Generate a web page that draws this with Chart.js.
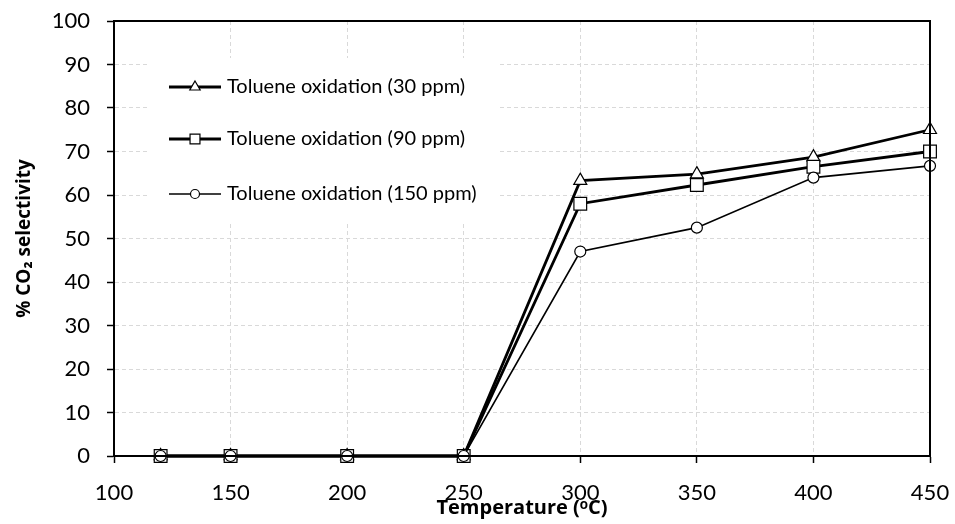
<!DOCTYPE html>
<html>
<head>
<meta charset="utf-8">
<script src="https://cdn.jsdelivr.net/npm/chart.js@4.4.0/dist/chart.umd.min.js"></script>
<style>
  html, body { margin: 0; padding: 0; background: #fff; }
  #wrap { width: 955px; height: 524px; }
</style>
</head>
<body>
<div id="wrap"><canvas id="selChart" width="955" height="524"></canvas></div>
<script>
// temperatures (°C) and % CO2 selectivity
var temps = [120, 150, 200, 250, 300, 350, 400, 450];
var sel30 = [0, 0, 0, 0, 63.3, 64.8, 68.7, 75.0];
var sel90 = [0, 0, 0, 0, 58.0, 62.3, 66.5, 70.0];
var sel150 = [0, 0, 0, 0, 47.0, 52.5, 64.0, 66.7];
var seriesNames = ["Toluene oxidation (30 ppm)", "Toluene oxidation (90 ppm)", "Toluene oxidation (150 ppm)"];

var FONT = "Lato, 'Open Sans', sans-serif";
var TITLE_FONT = "'Open Sans', sans-serif";

function pts(ys) {
  return temps.map(function (t, i) { return { x: t, y: ys[i] }; });
}

// legend drawn inside the plot, on a white patch that hides the grid
var insideLegend = {
  id: "insideLegend",
  beforeDatasetsDraw: function (chart) {
    var c = chart.ctx;
    c.save();
    c.fillStyle = "#fff";
    c.fillRect(148, 58, 349, 165);
    var rows = [87, 139, 194];
    chart.data.datasets.forEach(function (ds, i) {
      var y = rows[i];
      c.strokeStyle = "#000";
      c.lineWidth = ds.borderWidth;
      c.beginPath();
      c.moveTo(169, y);
      c.lineTo(221, y);
      c.stroke();
      c.lineWidth = 1.2;
      c.fillStyle = "#fff";
      Chart.helpers.drawPoint(c, {
        pointStyle: ds.pointStyle,
        radius: ds.legendRadius,
        rotation: 0,
        borderWidth: 1.2
      }, 195, y);
      c.fillStyle = "#000";
      c.font = "20px " + FONT;
      c.textBaseline = "middle";
      c.fillText(ds.label, 227, y);
    });
    c.restore();
  },
  afterDraw: function (chart) {
    var a = chart.chartArea, c = chart.ctx;
    c.save();
    c.strokeStyle = "#000";
    c.lineWidth = 2;
    c.strokeRect(a.left, a.top, a.right - a.left, a.bottom - a.top);
    c.restore();
  }
};

new Chart(document.getElementById("selChart").getContext("2d"), {
  type: "line",
  data: {
    datasets: [
      {
        label: seriesNames[0], data: pts(sel30), order: 3, clip: false,
        borderColor: "#000", borderWidth: 2.8, pointStyle: "triangle",
        pointRadius: 7.5, legendRadius: 6, pointBackgroundColor: "#fff",
        pointBorderColor: "#000", pointBorderWidth: 1.2
      },
      {
        label: seriesNames[1], data: pts(sel90), order: 2, clip: false,
        borderColor: "#000", borderWidth: 2.8, pointStyle: "rect",
        pointRadius: 9, legendRadius: 7, pointBackgroundColor: "#fff",
        pointBorderColor: "#000", pointBorderWidth: 1.2
      },
      {
        label: seriesNames[2], data: pts(sel150), order: 1, clip: false,
        borderColor: "#000", borderWidth: 1.6, pointStyle: "circle",
        pointRadius: 5.5, legendRadius: 4.5, pointBackgroundColor: "#fff",
        pointBorderColor: "#000", pointBorderWidth: 1.2
      }
    ]
  },
  options: {
    responsive: false,
    animation: false,
    layout: { padding: { left: 0, right: 25, top: 21, bottom: 0 } },
    plugins: {
      legend: { display: false },
      tooltip: { enabled: false }
    },
    scales: {
      x: {
        type: "linear",
        min: 100,
        max: 450,
        ticks: { stepSize: 50, color: "#000", font: { family: FONT, size: 22 }, padding: 17, maxRotation: 0 },
        grid: { color: "#d9d9d9", tickColor: "#000", tickLength: 7, tickWidth: 1.5, tickBorderDash: [] },
        border: { color: "#000", width: 2, dash: [4, 3] },
        title: {
          display: true,
          text: "Temperature (\u1D52C)",
          color: "#000",
          font: { family: TITLE_FONT, size: 20, weight: "bold" },
          padding: { top: 0, bottom: 4 }
        },
        afterFit: function (s) {
          s.height = 68;
          s.paddingLeft = 0;
          s.paddingRight = 0;
        }
      },
      y: {
        min: 0,
        max: 100,
        ticks: { stepSize: 10, color: "#000", font: { family: FONT, size: 22 }, padding: 17 },
        grid: { color: "#d9d9d9", tickColor: "#000", tickLength: 7, tickWidth: 1.5, tickBorderDash: [] },
        border: { color: "#000", width: 2, dash: [4, 3] },
        title: {
          display: true,
          text: "% CO\u2082 selectivity",
          color: "#000",
          font: { family: TITLE_FONT, size: 19, weight: "bold" },
          padding: { top: 13, bottom: 0 }
        },
        afterFit: function (s) {
          s.width = 114;
          s.paddingTop = 0;
          s.paddingBottom = 0;
        }
      }
    }
  },
  plugins: [insideLegend]
});
</script>
</body>
</html>
